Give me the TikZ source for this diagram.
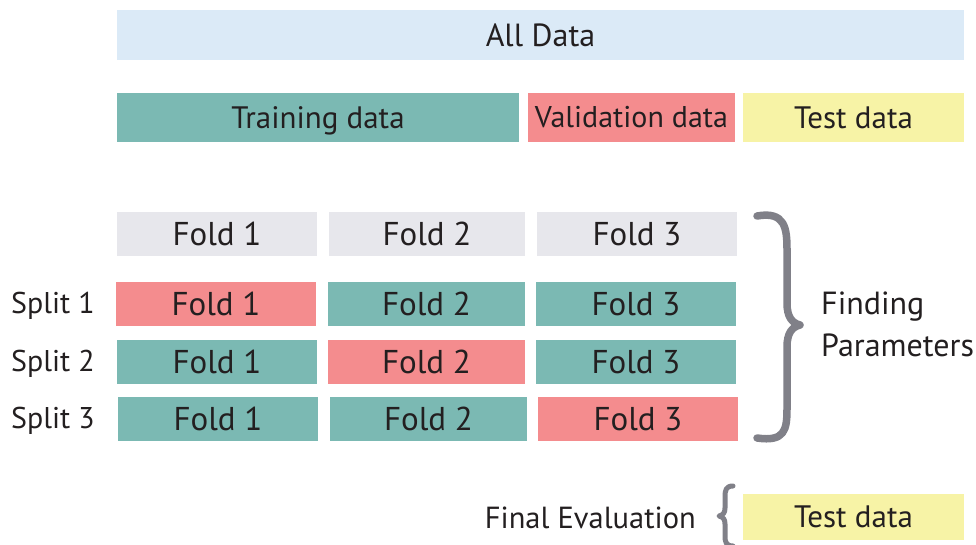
\documentclass[tikz,border=0pt]{standalone}
\usepackage{fontspec}
\setmainfont{PT Sans}
\definecolor{alldata}{HTML}{DBEAF7}
\definecolor{train}{HTML}{7BB9B3}
\definecolor{valid}{HTML}{F48C8E}
\definecolor{testc}{HTML}{F7F3A6}
\definecolor{foldgray}{HTML}{E7E7EC}
\definecolor{bracec}{HTML}{808088}
\definecolor{txt}{HTML}{231F20}
\begin{document}
\begin{tikzpicture}[x=1pt,y=-1pt,
  box/.style={rectangle, inner sep=0pt, text=txt, text height=21.7pt, text depth=0pt,
    font=\fontsize{31}{38}\selectfont},
  fold/.style={box, minimum height=44pt, text height=23.1pt, font=\fontsize{33}{38}\selectfont},
  band/.style={box, minimum height=49pt},
  lbl/.style={text=txt, inner sep=0pt, text height=21pt, text depth=0pt,
    font=\fontsize{30}{36}\selectfont},
  bracepath/.style={draw=bracec, line cap=round, line join=round}]
\useasboundingbox (0,0) rectangle (976,545);

% top bands
\node[box, fill=alldata, minimum width=847pt, minimum height=50pt, text height=22.4pt,
  font=\fontsize{32}{38}\selectfont] (all) at (540.5,35) {All Data};
\node[band, fill=train, minimum width=402pt] (train) at (318,117.5) {Training data};
\node[band, fill=valid, minimum width=207pt, text height=21pt,
  font=\fontsize{30}{36}\selectfont] (valid) at (631.5,117.5) {Validation data};
\node[band, fill=testc, minimum width=221pt] (test) at (853.5,117.5) {Test data};

% fold header row
\node[fold, fill=foldgray, minimum width=200pt] (h1) at (217,234) {Fold 1};
\node[fold, fill=foldgray, minimum width=196pt] (h2) at (427,234) {Fold 2};
\node[fold, fill=foldgray, minimum width=200pt] (h3) at (637,234) {Fold 3};

% split 1
\node[fold, fill=valid, minimum width=200pt] (a1) at (216,304) {Fold 1};
\node[fold, fill=train, minimum width=197pt] (a2) at (426.5,304) {Fold 2};
\node[fold, fill=train, minimum width=200pt] (a3) at (636,304) {Fold 3};
% split 2
\node[fold, fill=train, minimum width=200pt] (b1) at (217,362) {Fold 1};
\node[fold, fill=valid, minimum width=197pt] (b2) at (426.5,362) {Fold 2};
\node[fold, fill=train, minimum width=200pt] (b3) at (636,362) {Fold 3};
% split 3
\node[fold, fill=train, minimum width=200pt] (c1) at (218,419) {Fold 1};
\node[fold, fill=train, minimum width=197pt] (c2) at (428.5,419) {Fold 2};
\node[fold, fill=valid, minimum width=200pt] (c3) at (638,419) {Fold 3};

% split labels
\node[lbl, anchor=west] (s1) at (11,303) {Split 1};
\node[lbl, anchor=west] (s2) at (11,361) {Split 2};
\node[lbl, anchor=west] (s3) at (11,418) {Split 3};

% brace over the three splits
\path[bracepath, line width=7.5pt]
  (757,216) .. controls (785,211) and (787,228) .. (787,250)
  -- (787,303) .. controls (787,317) and (792,323) .. (800,325)
  .. controls (792,327) and (787,333) .. (787,347)
  -- (787,408) .. controls (787,430) and (785,442) .. (757,438);
\node[text=txt, inner sep=0pt, anchor=west, align=left, font=\fontsize{32}{42}\selectfont] (find) at (821,324) {Finding\\Parameters};

% final evaluation
\node[box, fill=testc, minimum width=221pt, minimum height=46pt] (final) at (853.5,517) {Test data};
\node[lbl, anchor=east, font=\fontsize{30.5}{36}\selectfont] (eval) at (696,518) {Final Evaluation};
\path[bracepath, line width=5pt]
  (733,486) .. controls (726,486) and (725,490) .. (725,497)
  -- (725,508) .. controls (725,513) and (723,515) .. (719,516)
  .. controls (723,517) and (725,519) .. (725,524)
  -- (725,536) .. controls (725,542) and (726,546) .. (733,546);
\end{tikzpicture}
\end{document}
